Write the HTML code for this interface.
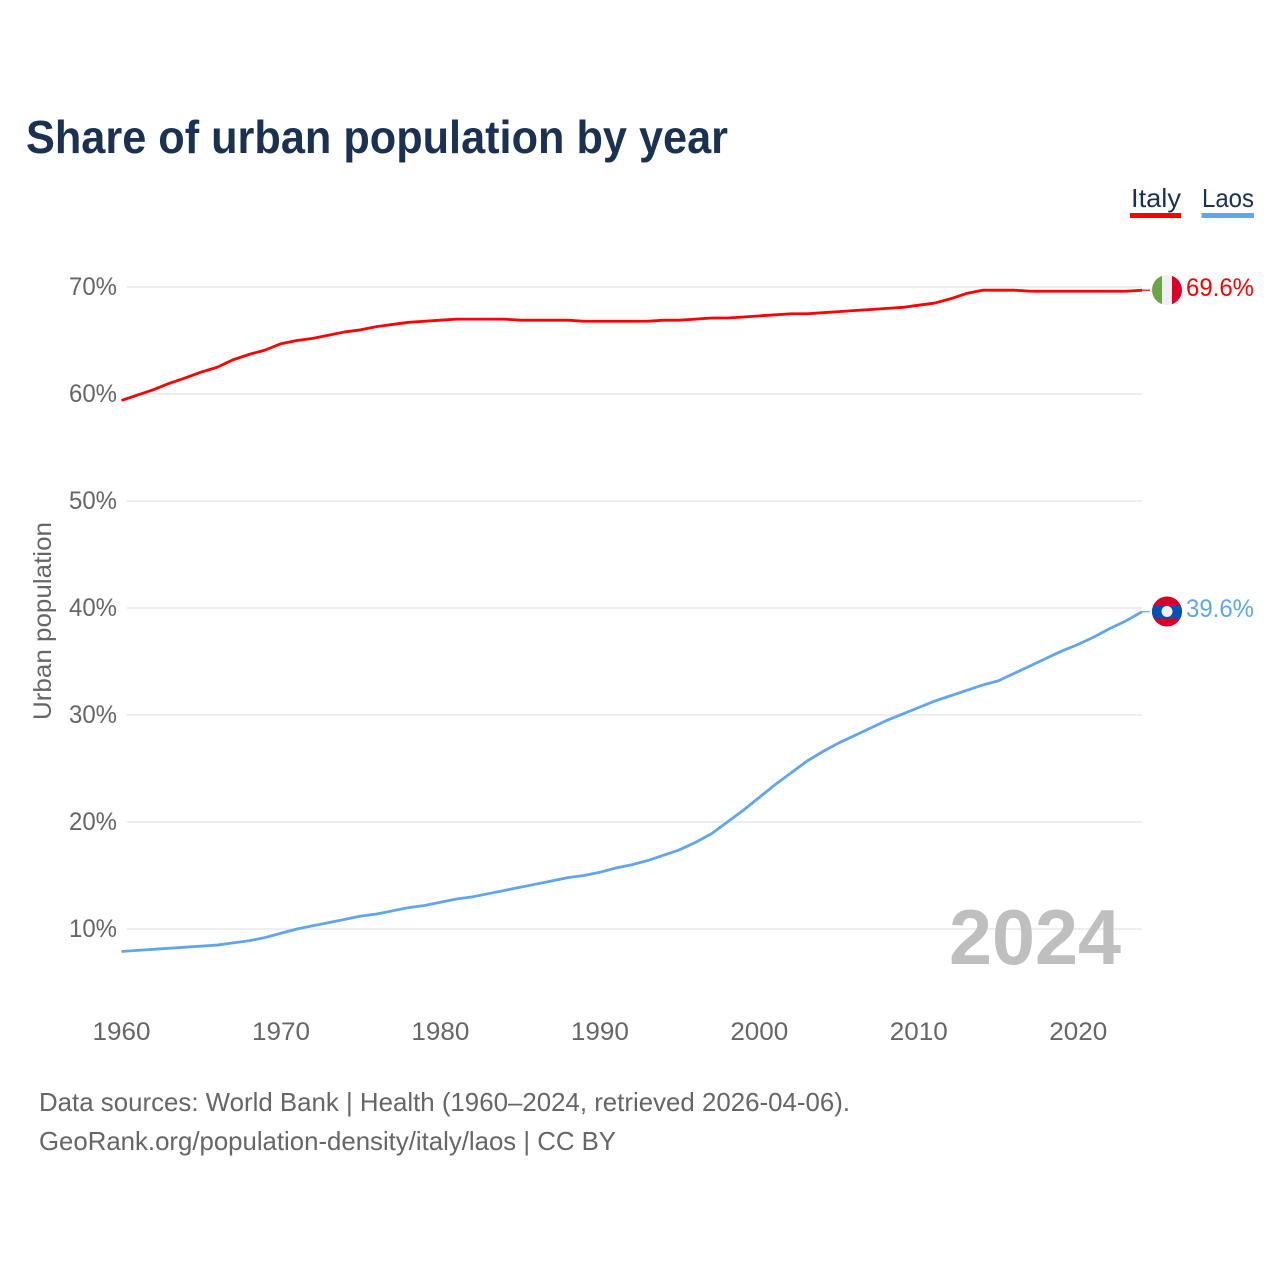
<!DOCTYPE html>
<html>
<head>
<meta charset="utf-8">
<title>Share of urban population by year</title>
<style>
html,body{margin:0;padding:0;background:#fff;}
svg{display:block;}
text{font-family:"Liberation Sans",sans-serif;}
</style>
</head>
<body>
<svg id="chart" xmlns="http://www.w3.org/2000/svg" width="1280" height="1280" viewBox="0 0 1280 1280">
  <rect x="0" y="0" width="1280" height="1280" fill="#ffffff"/>
  <text x="26" y="153" font-size="46" font-weight="700" fill="#1a3152" textLength="702" lengthAdjust="spacingAndGlyphs">Share of urban population by year</text>

  <g id="grid"></g>
  <g id="y-ticks"></g>
  <g id="x-ticks"></g>
  <text transform="translate(51,621) rotate(-90)" text-anchor="middle" font-size="25" fill="#666666" textLength="198" lengthAdjust="spacingAndGlyphs">Urban population</text>

  <text x="949" y="964" font-size="78" font-weight="700" fill="#bfbfbf" textLength="172" lengthAdjust="spacingAndGlyphs">2024</text>

  <g id="series"></g>

  <g>
    <g>
      <text x="1131" y="207" font-size="26" fill="#1a3152" textLength="50" lengthAdjust="spacingAndGlyphs">Italy</text>
      <rect x="1130" y="213" width="51" height="5" fill="#ff0000"/>
    </g>
    <g>
      <text x="1202" y="207" font-size="26" fill="#1a3152" textLength="52" lengthAdjust="spacingAndGlyphs">Laos</text>
      <rect x="1201.5" y="213" width="52.5" height="5" fill="#60a5ee"/>
    </g>
  </g>

  <defs>
    <clipPath id="clip-italy"><circle cx="1167" cy="290" r="15"/></clipPath>
    <clipPath id="clip-laos"><circle cx="1167" cy="611.5" r="15"/></clipPath>
  </defs>
  <g id="flag-italy" clip-path="url(#clip-italy)">
    <rect x="1152" y="275" width="10" height="30" fill="#6da544"/>
    <rect x="1162" y="275" width="10" height="30" fill="#f0f0f0"/>
    <rect x="1172" y="275" width="10" height="30" fill="#d80027"/>
  </g>
  <g id="flag-laos" clip-path="url(#clip-laos)">
    <rect x="1152" y="596" width="30" height="31" fill="#d80027"/>
    <rect x="1152" y="605" width="30" height="13.5" fill="#0052b4"/>
    <circle cx="1167" cy="611.5" r="5.5" fill="#f0f0f0"/>
  </g>

  <text id="label-italy" x="1186" y="296" font-size="25" fill="#ff0000" textLength="68" lengthAdjust="spacingAndGlyphs"></text>
  <text id="label-laos" x="1186" y="617" font-size="25" fill="#60a5ee" textLength="68" lengthAdjust="spacingAndGlyphs"></text>

  <text x="39" y="1111" font-size="26" fill="#666666" textLength="811" lengthAdjust="spacingAndGlyphs">Data sources: World Bank | Health (1960–2024, retrieved 2026-04-06).</text>
  <text x="39" y="1150" font-size="26" fill="#666666" textLength="577" lengthAdjust="spacingAndGlyphs">GeoRank.org/population-density/italy/laos | CC BY</text>
</svg>
<script>
const years = [1960,1961,1962,1963,1964,1965,1966,1967,1968,1969,1970,1971,1972,1973,1974,1975,1976,1977,1978,1979,1980,1981,1982,1983,1984,1985,1986,1987,1988,1989,1990,1991,1992,1993,1994,1995,1996,1997,1998,1999,2000,2001,2002,2003,2004,2005,2006,2007,2008,2009,2010,2011,2012,2013,2014,2015,2016,2017,2018,2019,2020,2021,2022,2023,2024];
const italyValues = [59.4,59.9,60.4,61.0,61.5,62.05,62.5,63.2,63.7,64.1,64.7,65.0,65.2,65.5,65.8,66.0,66.3,66.5,66.7,66.8,66.9,67.0,67.0,67.0,67.0,66.9,66.9,66.9,66.9,66.8,66.8,66.8,66.8,66.8,66.9,66.9,67.0,67.1,67.1,67.2,67.3,67.4,67.5,67.5,67.6,67.7,67.8,67.9,68.0,68.1,68.3,68.5,68.9,69.4,69.7,69.7,69.7,69.6,69.6,69.6,69.6,69.6,69.6,69.6,69.7];
const laosValues = [7.9,8.0,8.1,8.2,8.3,8.4,8.5,8.7,8.9,9.2,9.6,10.0,10.3,10.6,10.9,11.2,11.4,11.7,12.0,12.2,12.5,12.8,13.0,13.3,13.6,13.9,14.2,14.5,14.8,15.0,15.3,15.7,16.0,16.4,16.9,17.4,18.1,18.9,20.0,21.1,22.3,23.5,24.6,25.7,26.6,27.4,28.1,28.8,29.5,30.1,30.7,31.3,31.8,32.3,32.8,33.2,33.9,34.6,35.3,36.0,36.6,37.3,38.1,38.8,39.65];
const yTickValues = [10,20,30,40,50,60,70];
const yTickLabels = ["10%","20%","30%","40%","50%","60%","70%"];
const xTickValues = [1960,1970,1980,1990,2000,2010,2020];
const xTickLabels = ["1960","1970","1980","1990","2000","2010","2020"];
const endLabels = ["69.6%","39.6%"];

const SVG_NS = "http://www.w3.org/2000/svg";
function xScale(year){ return 121.5 + (year - 1960) * (1142 - 121.5) / 64; }
function yScale(value){ return 287 + (70 - value) * 10.7; }

const gridGroup = document.getElementById("grid");
const yTickGroup = document.getElementById("y-ticks");
const xTickGroup = document.getElementById("x-ticks");
const seriesGroup = document.getElementById("series");

yTickValues.forEach(function(value, i){
  const line = document.createElementNS(SVG_NS, "line");
  
  
  line.setAttribute("x1", 127);
  line.setAttribute("x2", 1142);
  line.setAttribute("y1", yScale(value));
  line.setAttribute("y2", yScale(value));
  line.setAttribute("stroke", "#eeeeee");
  line.setAttribute("stroke-width", 2);
  gridGroup.appendChild(line);

  const label = document.createElementNS(SVG_NS, "text");
  
  
  label.setAttribute("x", 117);
  label.setAttribute("y", yScale(value) + 8);
  label.setAttribute("text-anchor", "end");
  label.setAttribute("font-size", 25);
  label.setAttribute("fill", "#666666");
  label.setAttribute("textLength", 48);
  label.setAttribute("lengthAdjust", "spacingAndGlyphs");
  label.textContent = yTickLabels[i];
  yTickGroup.appendChild(label);
});

xTickValues.forEach(function(year, i){
  const label = document.createElementNS(SVG_NS, "text");
  
  
  label.setAttribute("x", xScale(year));
  label.setAttribute("y", 1040);
  label.setAttribute("text-anchor", "middle");
  label.setAttribute("font-size", 25);
  label.setAttribute("fill", "#666666");
  label.setAttribute("textLength", 58);
  label.setAttribute("lengthAdjust", "spacingAndGlyphs");
  label.textContent = xTickLabels[i];
  xTickGroup.appendChild(label);
});

function buildPath(values){
  let d = "";
  values.forEach(function(value, i){
    d += (i === 0 ? "M" : "L") + xScale(years[i]).toFixed(2) + " " + yScale(value).toFixed(2);
  });
  return d;
}

function connectorY(values){
  return yScale(values[values.length - 1]);
}

const italyLine = document.createElementNS(SVG_NS, "path");


italyLine.setAttribute("d", buildPath(italyValues));
italyLine.setAttribute("fill", "none");
italyLine.setAttribute("stroke", "#ff0000");
italyLine.setAttribute("stroke-width", 2.8);
italyLine.setAttribute("stroke-linejoin", "round");
seriesGroup.appendChild(italyLine);

const italyConnector = document.createElementNS(SVG_NS, "line");


italyConnector.setAttribute("x1", xScale(years[years.length - 1]));
italyConnector.setAttribute("x2", 1150);
italyConnector.setAttribute("y1", connectorY(italyValues));
italyConnector.setAttribute("y2", connectorY(italyValues));
italyConnector.setAttribute("stroke", "#ff0000");
italyConnector.setAttribute("stroke-width", 1.2);
seriesGroup.appendChild(italyConnector);

const laosLine = document.createElementNS(SVG_NS, "path");


laosLine.setAttribute("d", buildPath(laosValues));
laosLine.setAttribute("fill", "none");
laosLine.setAttribute("stroke", "#60a5ee");
laosLine.setAttribute("stroke-width", 2.8);
laosLine.setAttribute("stroke-linejoin", "round");
seriesGroup.appendChild(laosLine);

const laosConnector = document.createElementNS(SVG_NS, "line");


laosConnector.setAttribute("x1", xScale(years[years.length - 1]));
laosConnector.setAttribute("x2", 1150);
laosConnector.setAttribute("y1", connectorY(laosValues));
laosConnector.setAttribute("y2", connectorY(laosValues));
laosConnector.setAttribute("stroke", "#60a5ee");
laosConnector.setAttribute("stroke-width", 1.2);
seriesGroup.appendChild(laosConnector);

document.getElementById("label-italy").textContent = endLabels[0];
document.getElementById("label-laos").textContent = endLabels[1];
</script>
</body>
</html>
